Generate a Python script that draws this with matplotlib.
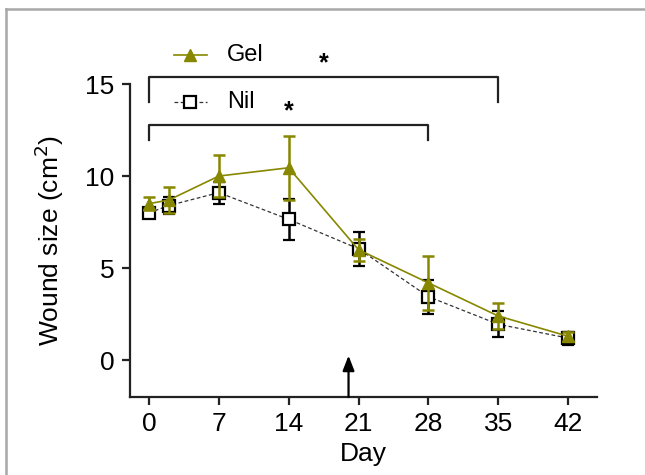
import numpy as np
import matplotlib.pyplot as plt
from matplotlib.lines import Line2D

plt.rcParams['font.family'] = ['Liberation Sans', 'DejaVu Sans']

days = [0, 2, 7, 14, 21, 28, 35, 42]
gel_mean = [8.5, 8.7, 10.0, 10.45, 6.0, 4.2, 2.4, 1.3]
gel_err = [0.35, 0.7, 1.15, 1.75, 0.6, 1.45, 0.7, 0.25]
nil_mean = [8.0, 8.4, 9.1, 7.65, 6.05, 3.45, 1.95, 1.2]
nil_err = [0.0, 0.45, 0.6, 1.1, 0.92, 0.92, 0.7, 0.35]
xticks = [0, 7, 14, 21, 28, 35, 42]
yticks = [0, 5, 10, 15]

olive = '#878700'

fig = plt.figure(figsize=(6.45, 4.75), dpi=100)
ax = fig.add_axes([130 / 645, 1 - 397 / 475, 467 / 645, 313 / 475])

# grey frame (top and left edges of the screenshot)
fig.add_artist(Line2D([6 / 645, 1], [1 - 9 / 475, 1 - 9 / 475], color='#a8a8a8', lw=1.8))
fig.add_artist(Line2D([6 / 645, 6 / 645], [0, 1 - 9 / 475], color='#a8a8a8', lw=1.8))

ax.errorbar(days, nil_mean, yerr=nil_err, color='#333333', ls=(0, (3, 2)), lw=0.9,
            marker='s', ms=8, mfc='white', mec='black', mew=1.6,
            ecolor='black', elinewidth=1.8, capsize=4, capthick=1.8, zorder=3)
ax.errorbar(days, gel_mean, yerr=gel_err, color=olive, ls='-', lw=1.2,
            marker='^', ms=9, mfc=olive, mec=olive,
            ecolor=olive, elinewidth=1.8, capsize=4, capthick=1.8, zorder=4)

ax.set_xlim(-1.9, 44.9)
ax.set_ylim(-2, 15)
ax.set_xticks(xticks)
ax.set_yticks(yticks)
for s in ['top', 'right']:
    ax.spines[s].set_visible(False)
for s in ['left', 'bottom']:
    ax.spines[s].set_linewidth(1.6)
    ax.spines[s].set_color('#222222')
ax.tick_params(axis='both', length=6, width=1.6, color='#222222', labelsize=19, pad=5)
ax.set_xlabel('Day', fontsize=19, labelpad=4)
ax.set_ylabel('Wound size (cm$^2$)', fontsize=19, labelpad=14)

# significance brackets
def bracket(x0, x1, y, h, text_y):
    ax.plot([x0, x0, x1, x1], [y - h, y, y, y - h], color='#222222', lw=1.6, clip_on=False)
    ax.text((x0 + x1) / 2, text_y, '*', ha='center', va='center', fontsize=18,
            fontweight='bold', clip_on=False)

bracket(0, 35, 15.4, 1.4, 16.1)
bracket(0, 28, 12.75, 0.8, 13.5)

# arrow at day 20
ax.annotate('', xy=(20, 0.25), xytext=(20, -2),
            arrowprops=dict(arrowstyle='-|>,head_width=0.35,head_length=0.9',
                            color='black', lw=1.6, shrinkA=0, shrinkB=0))

# legend drawn by hand above the plot area
lx0, lx1 = 2.5, 5.8
ax.plot([lx0, lx1], [16.6, 16.6], color=olive, lw=1.2, clip_on=False)
ax.plot([(lx0 + lx1) / 2], [16.6], marker='^', ms=9, color=olive, clip_on=False)
ax.text(7.8, 16.6, 'Gel', fontsize=17, va='center', clip_on=False)
ax.plot([lx0, lx1], [14.0, 14.0], color='#333333', ls=(0, (3, 2)), lw=0.9, clip_on=False)
ax.plot([(lx0 + lx1) / 2], [14.0], marker='s', ms=8, mfc='white', mec='black', mew=1.6,
        clip_on=False)
ax.text(7.8, 14.0, 'Nil', fontsize=17, va='center', clip_on=False)

fig.savefig('out.png', dpi=100)
